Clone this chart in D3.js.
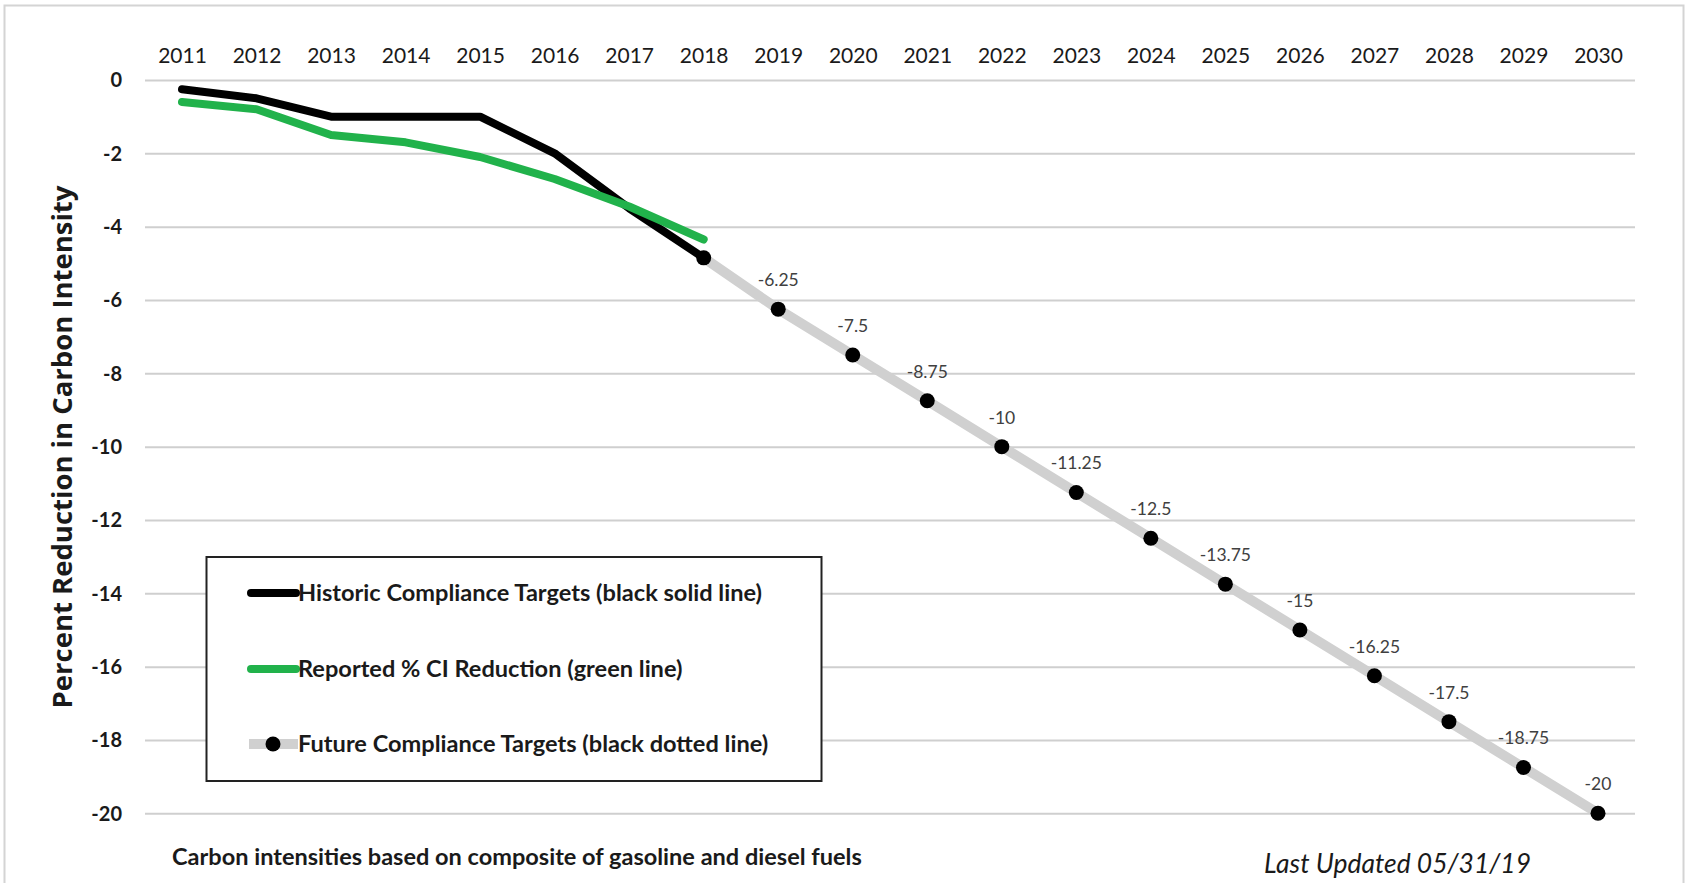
<!DOCTYPE html>
<html>
<head>
<meta charset="utf-8">
<script src="https://cdn.jsdelivr.net/npm/d3@7"></script>
<style>
  html, body { margin: 0; padding: 0; background: #fff; }
  svg { display: block; }
</style>
</head>
<body>
<svg id="chart" width="1685" height="883"></svg>
<script>
// ---------------- DATA ----------------
const years = [2011, 2012, 2013, 2014, 2015, 2016, 2017, 2018, 2019, 2020,
               2021, 2022, 2023, 2024, 2025, 2026, 2027, 2028, 2029, 2030];
const historicYears = [2011, 2012, 2013, 2014, 2015, 2016, 2017, 2018];
const historicTargets = [-0.25, -0.5, -1, -1, -1, -2, -3.5, -4.85];
const reportedReduction = [-0.6, -0.8, -1.5, -1.7, -2.1, -2.7, -3.45, -4.35];
const futureYears = [2018, 2019, 2020, 2021, 2022, 2023, 2024, 2025, 2026, 2027, 2028, 2029, 2030];
const futureTargets = [-4.85, -6.25, -7.5, -8.75, -10, -11.25, -12.5, -13.75, -15, -16.25, -17.5, -18.75, -20];
const futureLabels = ["", "-6.25", "-7.5", "-8.75", "-10", "-11.25", "-12.5", "-13.75", "-15", "-16.25", "-17.5", "-18.75", "-20"];
const yTicks = [0, -2, -4, -6, -8, -10, -12, -14, -16, -18, -20];
const yTickLabels = ["0", "-2", "-4", "-6", "-8", "-10", "-12", "-14", "-16", "-18", "-20"];
const legendLabels = [
  "Historic Compliance Targets (black solid line)",
  "Reported % CI Reduction (green line)",
  "Future Compliance Targets (black dotted line)"
];
const yTitle = "Percent Reduction in Carbon Intensity";
const footnote = "Carbon intensities based on composite of gasoline and diesel fuels";
const updated = "Last Updated 05/31/19";

// ---------------- LAYOUT ----------------
const svg = d3.select("#chart");
const gridLeft = 145, gridRight = 1635;
const x = d3.scaleLinear().domain([2011, 2030]).range([182, 1598]);
const y = d3.scaleLinear().domain([0, -20]).range([80, 813.3]);

const BLACK = "#000000", GREEN = "#21b24b", GRAY = "#d0d0d0";
const FONT = "Lato, 'Open Sans', sans-serif";

function fit(sel, target) {
  const len = sel.node().getComputedTextLength();
  const fs = parseFloat(sel.attr("font-size"));
  sel.attr("font-size", (fs * target / len).toFixed(2));
  return sel;
}

// outer border
svg.append("rect")
  .attr("x", 4.5).attr("y", 5.5).attr("width", 1679).attr("height", 900)
  .attr("fill", "none").attr("stroke", "#d4d4d4").attr("stroke-width", 2);

// gridlines + y labels
const yAxis = d3.axisLeft(y).tickValues(yTicks).tickSize(-(gridRight - gridLeft))
  .tickPadding(23).tickFormat((d, i) => yTickLabels[i]);
const gy = svg.append("g").attr("transform", `translate(${gridLeft},0)`).call(yAxis);
gy.select(".domain").remove();
gy.selectAll(".tick line").attr("stroke", "#cfcfcf").attr("stroke-width", 2);
gy.selectAll(".tick text")
  .attr("font-family", FONT).attr("font-size", 20).attr("font-weight", 700)
  .attr("fill", "#1a1a1a").attr("dy", "0.34em");

// x labels on top
const xAxis = d3.axisTop(x).tickValues(years).tickSize(0).tickPadding(0).tickFormat(d => String(d));
const gx = svg.append("g").attr("transform", `translate(0,63)`).call(xAxis);
gx.select(".domain").remove();
gx.selectAll(".tick text")
  .attr("font-family", FONT).attr("font-size", 21).attr("font-weight", 400)
  .attr("fill", "#1a1a1a");

// y axis title
const yt = svg.append("text")
  .attr("transform", "translate(72,447) rotate(-90)")
  .attr("text-anchor", "middle")
  .attr("font-family", "'Open Sans', sans-serif").attr("font-weight", 700)
  .attr("font-size", 23).attr("fill", "#1a1a1a")
  .text(yTitle);
fit(yt, 523);

// lines
const line = d3.line().x(d => x(d[0])).y(d => y(d[1]));
const futureData = futureYears.map((yr, i) => [yr, futureTargets[i], futureLabels[i]]);
const histData = historicYears.map((yr, i) => [yr, historicTargets[i]]);
const repData = historicYears.map((yr, i) => [yr, reportedReduction[i]]);

svg.append("path").datum(futureData).attr("d", line)
  .attr("fill", "none").attr("stroke", GRAY).attr("stroke-width", 10)
  .attr("stroke-linejoin", "round");
svg.append("path").datum(histData).attr("d", line)
  .attr("fill", "none").attr("stroke", BLACK).attr("stroke-width", 8)
  .attr("stroke-linejoin", "round").attr("stroke-linecap", "round");
svg.append("path").datum(repData).attr("d", line)
  .attr("fill", "none").attr("stroke", GREEN).attr("stroke-width", 8)
  .attr("stroke-linejoin", "round").attr("stroke-linecap", "round");

svg.append("g").selectAll("circle").data(futureData).join("circle")
  .attr("cx", d => x(d[0])).attr("cy", d => y(d[1])).attr("r", 7.5)
  .attr("fill", BLACK);

svg.append("g").selectAll("text").data(futureData.filter(d => d[2] !== "")).join("text")
  .attr("x", d => x(d[0])).attr("y", d => y(d[1]) - 23)
  .attr("text-anchor", "middle")
  .attr("font-family", FONT).attr("font-size", 17.5).attr("fill", "#404040")
  .text(d => d[2]);

// legend
const lg = svg.append("g");
lg.append("rect").attr("x", 206.5).attr("y", 557).attr("width", 615).attr("height", 224)
  .attr("fill", "#fff").attr("stroke", "#222").attr("stroke-width", 2);
const ly = [593, 669, 744];
lg.append("line").attr("x1", 251).attr("x2", 296).attr("y1", ly[0]).attr("y2", ly[0])
  .attr("stroke", BLACK).attr("stroke-width", 8).attr("stroke-linecap", "round");
lg.append("line").attr("x1", 251).attr("x2", 296).attr("y1", ly[1]).attr("y2", ly[1])
  .attr("stroke", GREEN).attr("stroke-width", 8).attr("stroke-linecap", "round");
lg.append("line").attr("x1", 249).attr("x2", 298).attr("y1", ly[2]).attr("y2", ly[2])
  .attr("stroke", GRAY).attr("stroke-width", 10);
lg.append("circle").attr("cx", 273).attr("cy", ly[2]).attr("r", 7.5).attr("fill", BLACK);
legendLabels.forEach((t, i) => {
  const s = lg.append("text").attr("x", 298).attr("y", ly[i]).attr("dy", "0.35em")
    .attr("font-family", FONT).attr("font-weight", 700).attr("font-size", 20)
    .attr("fill", "#1a1a1a").text(t);
  if (i === 0) fit(s, 464);
});
const lfs = lg.select("text").attr("font-size");
lg.selectAll("text").attr("font-size", lfs);

// footnotes
const fn = svg.append("text").attr("x", 172).attr("y", 857).attr("dy", "0.35em")
  .attr("font-family", FONT).attr("font-weight", 700).attr("font-size", 18)
  .attr("fill", "#1a1a1a").text(footnote);
fit(fn, 690);
const up = svg.append("text").attr("x", 1264).attr("y", 864).attr("dy", "0.35em")
  .attr("font-family", FONT).attr("font-style", "italic").attr("font-size", 21)
  .attr("fill", "#1a1a1a").text(updated);
fit(up, 267);
</script>
</body>
</html>
